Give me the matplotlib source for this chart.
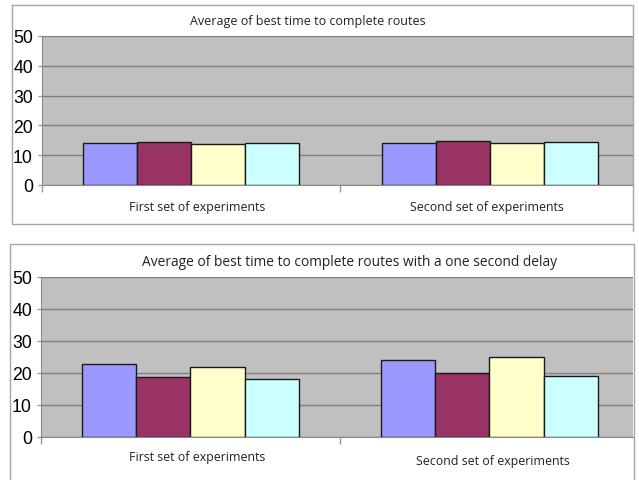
import matplotlib
matplotlib.use("Agg")
import matplotlib.pyplot as plt
from matplotlib.lines import Line2D
import numpy as np

W, H = 639, 481
DPI = 100

categories = ["First set of experiments", "Second set of experiments"]
y_ticks = [0, 10, 20, 30, 40, 50]

# best time, no delay (four series per experiment set)
best_time = [
    [14.0, 14.3, 13.9, 14.2],
    [14.1, 14.6, 14.1, 14.5],
]
# best time with a one second delay
best_time_delay = [
    [22.9, 18.9, 21.9, 18.0],
    [24.2, 20.0, 24.9, 19.0],
]

series_colors = ["#9999FF", "#993366", "#FFFFCC", "#CCFFFF"]
title_top = "Average of best time to complete routes"
title_bottom = "Average of best time to complete routes with a one second delay"

LABEL_FONT = "Open Sans"
TICK_FONT = "Liberation Sans"

fig = plt.figure(figsize=(W / DPI, H / DPI), dpi=DPI)
fig.patch.set_facecolor("white")


def px_axes(left, top, right, bottom):
    return fig.add_axes([left / W, 1 - bottom / H, (right - left) / W, (bottom - top) / H])


def fig_line(xs, ys, color="#A6A6A6", lw=1.0):
    fig.add_artist(Line2D([x / W for x in xs], [1 - y / H for y in ys],
                          color=color, lw=lw, transform=fig.transFigure))


def fig_text(x, y, s, size):
    fig.text(x / W, 1 - y / H, s, ha="center", va="center",
             fontsize=size, family=LABEL_FONT, color="#222222")


def draw_chart(ax, values):
    n_series = len(values[0])
    bar_w = 0.181
    x = np.arange(len(categories))
    for i in range(n_series):
        offs = (i - (n_series - 1) / 2) * bar_w
        ax.bar(x + offs, [v[i] for v in values], width=bar_w,
               color=series_colors[i], edgecolor="#1a1a1a", linewidth=1.0, zorder=3)
    ax.set_facecolor("#C0C0C0")
    ax.set_xlim(-0.5, 1.48)
    ax.set_ylim(0, 50)
    ax.set_yticks(y_ticks)
    ax.set_yticklabels([str(t) for t in y_ticks], family=TICK_FONT, fontsize=12.7)
    ax.yaxis.grid(True, color="#7f7f7f", lw=1.0, zorder=1)
    ax.set_axisbelow(True)
    ax.set_xticks([-0.5, 0.5])
    ax.set_xticklabels([])
    ax.tick_params(axis="x", direction="out", length=5, color="#9a9a9a", width=1)
    ax.tick_params(axis="y", direction="out", length=3, color="#9a9a9a", width=1, pad=3.5)
    for side in ("top", "right"):
        ax.spines[side].set_visible(False)
    ax.spines["left"].set_color("#8a8a8a")
    ax.spines["bottom"].set_color("#8a8a8a")


# frames around each chart
fig_line([12, 633, 633, 12, 12], [6, 6, 225, 225, 6])
fig_line([633, 633], [225, 232])
fig_line([10, 10, 634, 634], [481, 245, 245, 481])

ax1 = px_axes(42, 37, 633, 186)
draw_chart(ax1, best_time)
ax2 = px_axes(41, 278, 633, 438)
draw_chart(ax2, best_time_delay)

fig_text(308, 22, title_top, 9.0)
fig_text(350, 263, title_bottom, 9.9)
fig_text(197, 207, categories[0], 8.9)
fig_text(487, 208, categories[1], 8.9)
fig_text(197, 458, categories[0], 8.9)
fig_text(493, 462, categories[1], 8.9)

fig.savefig("out.png", dpi=DPI)
